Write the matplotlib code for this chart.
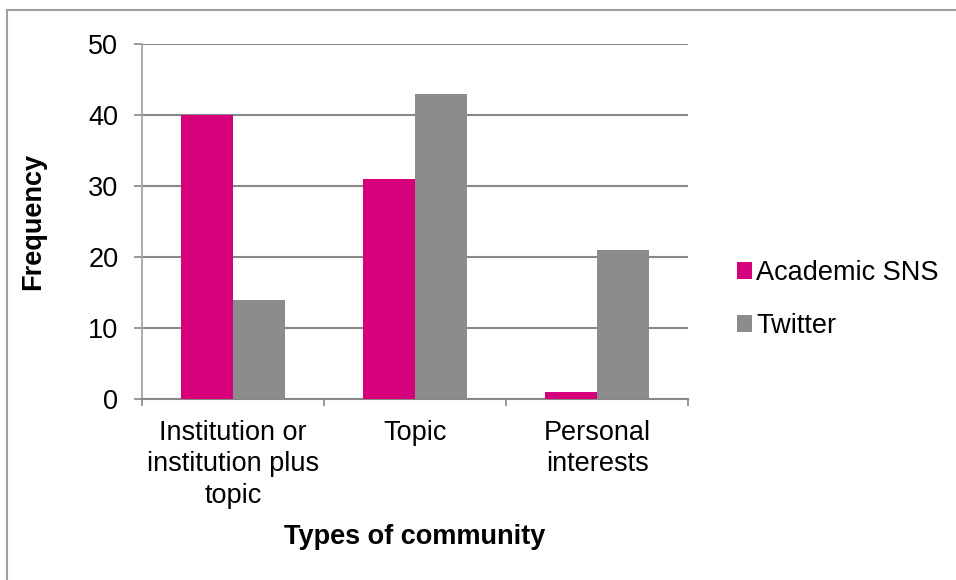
import matplotlib.pyplot as plt
import numpy as np
from matplotlib.lines import Line2D

# datos
categorias = ['Institution or\ninstitution plus\ntopic', 'Topic', 'Personal\ninterests']
academic_sns = [40, 31, 1]
twitter = [14, 43, 21]
series = ['Academic SNS', 'Twitter']

plt.rcParams['font.family'] = ['Liberation Sans', 'DejaVu Sans']
fs = 19.5

fig = plt.figure(figsize=(9.56, 5.8), dpi=100)
ax = fig.add_axes([142 / 956, 1 - 399 / 580, (688 - 142) / 956, (399 - 44) / 580])

x = np.arange(len(categorias))
ancho = 1 / 3.5
ax.bar(x - ancho / 2, academic_sns, ancho, color='#d6007a', label=series[0], zorder=3)
ax.bar(x + ancho / 2, twitter, ancho, color='#8c8c8c', label=series[1], zorder=3)

ax.set_xlim(-0.5, len(categorias) - 0.5)
ax.set_ylim(0, 50)
ax.set_yticks(range(0, 51, 10))
ax.set_xticks(x)
ax.set_xticklabels(categorias, fontsize=fs, linespacing=1.27)
ax.set_xticks(np.arange(-0.5, len(categorias)), minor=True)
ax.tick_params(axis='x', which='major', length=0, pad=15)
ax.tick_params(axis='x', which='minor', length=5, width=1.2, color='#888888')
ax.tick_params(axis='y', length=6, width=1.2, color='#888888', labelsize=fs, pad=11)

ax.grid(axis='y', color='#888888', linewidth=1.5, zorder=0)
for lado in ['top', 'right']:
    ax.spines[lado].set_visible(False)
ax.spines['left'].set_color('#a6a6a6')
ax.spines['left'].set_linewidth(1.3)
ax.spines['bottom'].set_color('#888888')
ax.spines['bottom'].set_linewidth(1.5)

ax.set_ylabel('Frequency', fontsize=fs, fontweight='bold', labelpad=30)
ax.set_xlabel('Types of community', fontsize=fs, fontweight='bold', labelpad=11)

ax.legend(loc='center left', bbox_to_anchor=(1.045, 0.28), frameon=False, fontsize=fs,
          handlelength=0.55, handleheight=0.55, handletextpad=0.15, labelspacing=1.0)

# marco del gráfico
fig.add_artist(Line2D([6.5 / 956, 1], [1 - 9.5 / 580] * 2, color='#a0a0a0', linewidth=1.5))
fig.add_artist(Line2D([6.5 / 956] * 2, [0, 1 - 9.5 / 580], color='#a0a0a0', linewidth=1.5))

plt.savefig('out.png', dpi=100)
